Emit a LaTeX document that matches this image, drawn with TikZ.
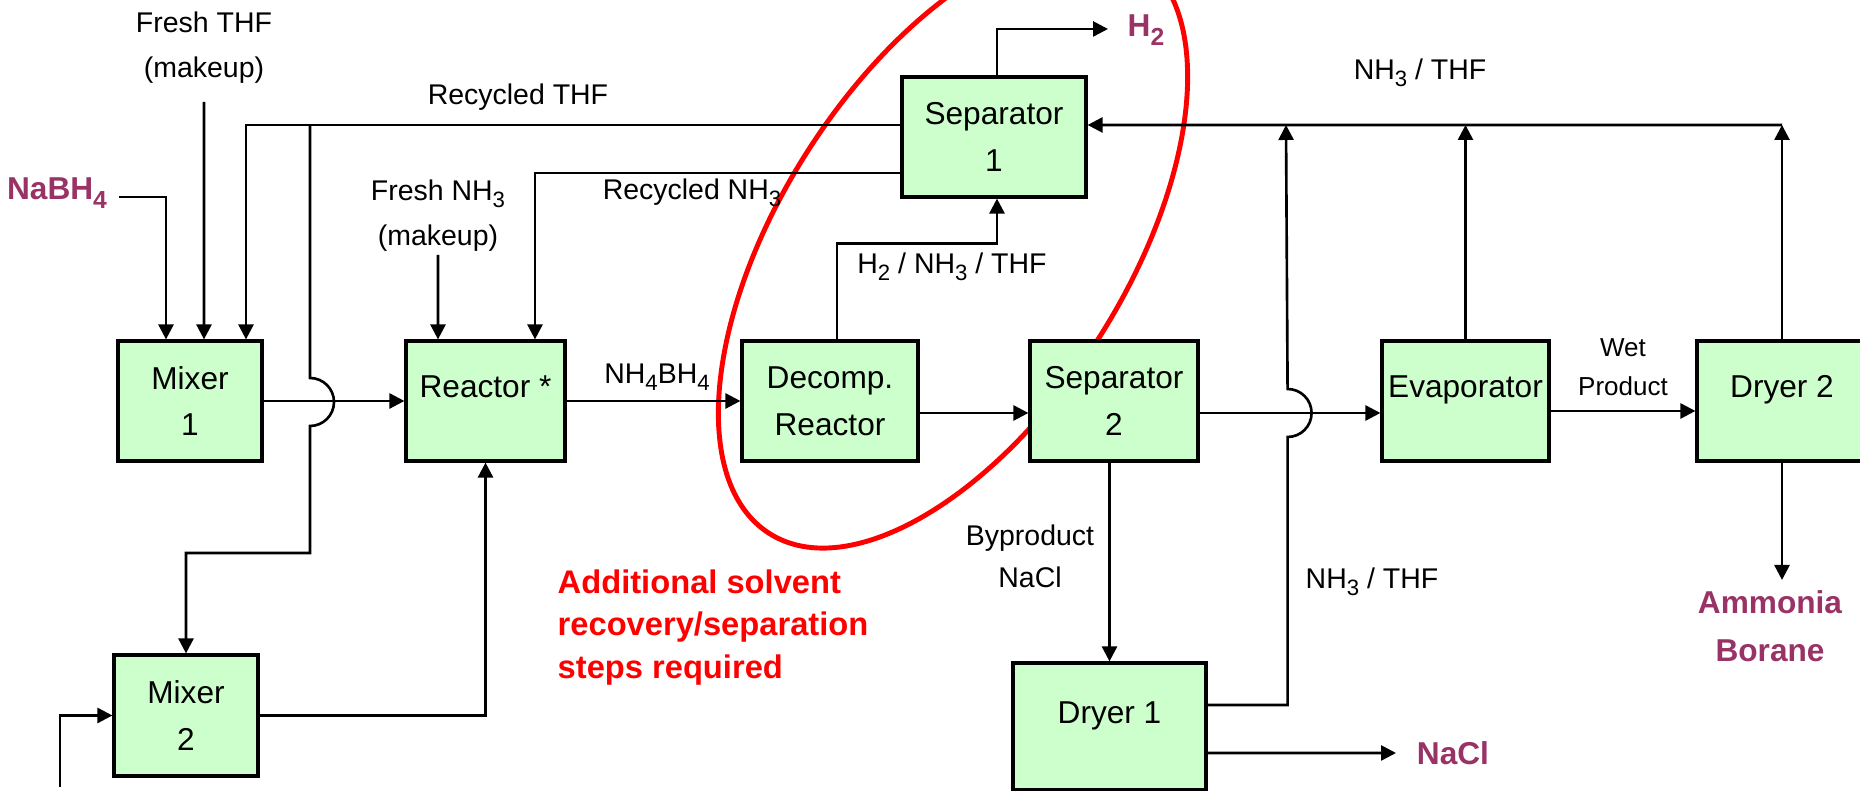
\documentclass[tikz,border=0pt]{standalone}
\usepackage{fontspec}
\usepackage{graphicx}
\setmainfont{Liberation Sans}
\usetikzlibrary{arrows.meta,backgrounds,positioning}
\definecolor{pfdFill}{HTML}{CCFFCC}
\definecolor{pfdStream}{HTML}{993366}
\definecolor{pfdRed}{HTML}{FF0000}
\newcommand{\lowsub}[1]{\raisebox{-0.5ex}{\scalebox{0.78}{#1}}}
\tikzset{
  pfd diagram/.style={x=0.1mm, y=0.1mm},
  pfd unit/.style={draw=black, fill=pfdFill, line width=0.9pt,
    align=center, inner sep=0pt, minimum height=12mm,
    font=\fontsize{9}{13.3}\selectfont},
  pfd single/.style={pfd unit, text height=2.4mm, text depth=3mm},
  pfd flow/.style={-{Triangle[length=1.5mm,width=1.5mm]}, line width=0.75pt},
  pfd label/.style={align=center, inner sep=0pt,
    font=\fontsize{8.1}{12.8}\selectfont},
  pfd small/.style={pfd label, font=\fontsize{7.4}{11}\selectfont},
  pfd stream/.style={align=center, inner sep=0pt, text=pfdStream,
    font=\bfseries\fontsize{9}{13.6}\selectfont},
  pfd note/.style={align=left, inner sep=0pt, text=pfdRed,
    font=\bfseries\fontsize{9.3}{12.2}\selectfont},
  pfd ring/.style={draw=pfdRed, line width=1.4pt}
}

\begin{document}
\begin{tikzpicture}[pfd diagram]
\useasboundingbox (0,0) rectangle (1860,791);
% process units
\node[pfd unit, minimum width=14.4mm] (mixer1) at (190,390) {Mixer\\1};
\node[pfd single, minimum width=15.9mm] (reactor) at (485.5,390) {Reactor *};
\node[pfd unit, minimum width=17.6mm] (decomp) at (830,390) {Decomp.\\Reactor};
\node[pfd unit, minimum width=16.8mm] (sep2) at (1114,390) {Separator\\2};
\node[pfd single, minimum width=16.7mm] (evap) at (1465.5,390) {Evaporator};
\node[pfd single, minimum width=17mm] (dryer2) at (1782,390) {Dryer 2};
\node[pfd unit, minimum width=18.4mm] (sep1) at (994,654) {Separator\\1};
\node[pfd unit, minimum width=14.4mm, minimum height=12.1mm] (mixer2) at (186,75.5) {Mixer\\2};
\node[pfd single, minimum width=19.3mm, minimum height=12.7mm] (dryer1) at (1109.5,64.5) {Dryer 1};
% stream labels
\node[pfd stream] (nabh) at (57,598) {NaBH\lowsub{4}};
\node[pfd label] (thf) at (204,743.5) {Fresh THF\\(makeup)};
\node[pfd label] (recthf) at (518,694) {Recycled THF};
\node[pfd label] (freshnh) at (438,575.5) {Fresh NH\lowsub{3}\\(makeup)};
\node[pfd label] (recnh) at (692,598) {Recycled NH\lowsub{3}};
\node[pfd stream] (htwo) at (1146,761) {H\lowsub{2}};
\node[pfd label] (vapour) at (952,524) {H\lowsub{2} / NH\lowsub{3} / THF};
\node[pfd label] (borohydride) at (657,414) {NH\lowsub{4}BH\lowsub{4}};
\node[pfd label] (solvtop) at (1420,718) {NH\lowsub{3} / THF};
\node[pfd label, font=\fontsize{8.1}{11.9}\selectfont] (byprod) at (1030,235) {Byproduct\\NaCl};
\node[pfd label] (solvlow) at (1372,209) {NH\lowsub{3} / THF};
\node[pfd small] (wet) at (1623,423.5) {Wet\\Product};
\node[pfd stream] (ab) at (1770,165) {Ammonia\\Borane};
\node[pfd stream] (nacl) at (1453,38) {NaCl};
\node[pfd note, anchor=west] (note) at (557,163.5) {Additional solvent\\recovery/separation\\steps required};
% free ends
\coordinate (nabhin) at (119,594);
\coordinate (thfin) at (204,689);
\coordinate (nhin) at (438,536);
\coordinate (mixtwoin) at (60,4);
\coordinate (thfsplit) at (310,666);
\coordinate (nhjoin) at (1286,666);
\coordinate (nhend) at (1782,666);
\coordinate (htwoout) at (1108,762);
\coordinate (naclout) at (1396,38);
\coordinate (about) at (1782,211);
% feeds
\draw[pfd flow] (nabhin) -| ([xshift=-2.4mm]mixer1.north);
\draw[pfd flow] (thfin) -- ([xshift=1.4mm]mixer1.north);
\draw[pfd flow] ([yshift=1.2mm]sep1.west) -| ([xshift=5.6mm]mixer1.north);
\draw[pfd flow] (thfsplit) -- ++(0,-253) arc[start angle=90,end angle=-90,radius=2.4mm] -- ++(0,-127) -| (mixer2.north);
\draw[pfd flow] (mixer1.east) -- (reactor.west);
\draw[pfd flow] (nhin) -- ([xshift=-4.75mm]reactor.north);
\draw[pfd flow] ([yshift=-3.6mm]sep1.west) -| ([xshift=4.95mm]reactor.north);
\draw[pfd flow] (mixtwoin) |- (mixer2.west);
\draw[pfd flow] (mixer2.east) -| (reactor.south);
% main train
\draw[pfd flow] (reactor.east) -- (decomp.west);
\draw[pfd flow] ([yshift=-1.2mm]decomp.east) -- ([yshift=-1.2mm]sep2.west);
\draw[pfd flow] ([xshift=0.7mm]decomp.north) -- ++(0,96) -| ([xshift=0.3mm]sep1.south);
\draw[pfd flow] ([xshift=0.3mm]sep1.north) |- (htwoout);
\draw[pfd flow] (sep2.south -| dryer1.north) -- (dryer1.north);
\draw[pfd flow] ([yshift=-1.2mm]sep2.east) -- ([yshift=-1.2mm]evap.west);
\draw[pfd flow] ([yshift=-1mm]evap.east) -- ([yshift=-1mm]dryer2.west);
% solvent return
\draw[pfd flow] ([yshift=2.15mm]dryer1.east) -| ++(80,268) arc[start angle=-90,end angle=90,radius=2.4mm] -- (nhjoin);
\draw[pfd flow] ([yshift=-2.65mm]dryer1.east) -- (naclout);
\draw[pfd flow] (evap.north) -- (evap.north |- nhend);
\draw[pfd flow] (dryer2.north) -- (nhend);
\draw[pfd flow] (nhend) -- ([yshift=1.2mm]sep1.east);
\draw[pfd flow] (dryer2.south) -- (about);
% highlighted section
\begin{scope}[on background layer]
  \clip (0,0) rectangle (1860,791);
  \draw[pfd ring, rotate around={57.5:(953,546)}] (953,546) ellipse[x radius=34.2mm, y radius=17.3mm];
\end{scope}
\end{tikzpicture}
\end{document}
